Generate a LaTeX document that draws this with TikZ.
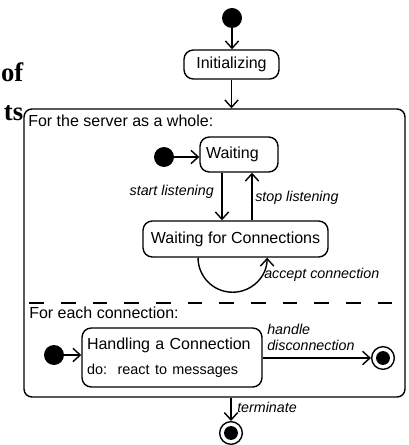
\documentclass[tikz,border=0pt]{standalone}
\usepackage{fontspec}
\setmainfont{Liberation Sans}
\newfontfamily\titlefont{Liberation Serif}
\usetikzlibrary{arrows.meta}

\tikzset{
  state/.style={draw, line width=1.05pt, rounded corners=7pt, inner sep=0pt, font=\fontsize{12}{14}\selectfont},
  startdot/.style={circle, fill, minimum size=15pt, inner sep=0pt},
  enddot/.style={circle, draw, line width=1.05pt, minimum size=17pt, inner sep=0pt,
    path picture={\fill (path picture bounding box.center) circle (5.2pt);}},
  trans/.style={line width=1.05pt, -{Straight Barb[length=5.5pt,width=10pt]}},
  lbl/.style={font=\fontsize{10.7}{11.5}\selectfont\itshape, inner sep=0pt},
  regionlbl/.style={font=\fontsize{12}{14}\selectfont, inner sep=0pt},
}

\begin{document}
\begin{tikzpicture}[x=0.75pt,y=0.75pt]
            \useasboundingbox (0,0) rectangle (408,-445);

            % cut-off title on the left
            \node[anchor=base east, inner sep=0pt, font=\titlefont\bfseries\fontsize{20}{24}\selectfont] (titleof) at (23.5,-82) {of};
            \node[anchor=base east, inner sep=0pt, font=\titlefont\bfseries\fontsize{20}{24}\selectfont] (titlets) at (23.5,-121) {ts};

            \node[startdot] (init) at (232,-18) {};
            \node[state, minimum width=71.25pt, minimum height=21.75pt] (initializing) at (231.5,-64.5) {Initializing};
            \draw[trans] (init) -- (init |- initializing.north);

            % composite state
            \node[draw, line width=1.05pt, rounded corners=6pt, minimum width=285.75pt, minimum height=216pt, inner sep=0pt] (server) at (214.5,-253) {};
            \node[regionlbl, anchor=west] (serverlbl) at (28,-121) {For the server as a whole:};

            \node[startdot] (init2) at (164,-157) {};
            \node[state, align=left, text width=49.5pt, inner xsep=4.5pt, minimum height=26.25pt] (waiting) at (239,-154.5) {Waiting};
            \node[state, minimum width=138.75pt, minimum height=27pt] (wfc) at (235.5,-239) {Waiting for Connections};

            \draw[trans] (init2) -- (waiting.west |- init2);
            \draw[trans] ([xshift=-12.75pt]waiting.south) -- ([xshift=-12.75pt]waiting.south |- wfc.north);
            \draw[trans] ([xshift=9.75pt]waiting.south |- wfc.north) -- ([xshift=9.75pt]waiting.south);
            \draw[trans] ([xshift=-28.1pt]wfc.south) arc[start angle=180, end angle=360, radius=25.9pt];

            \node[lbl, anchor=east] (startlbl) at (214,-192) {start listening};
            \node[lbl, anchor=west] (stoplbl) at (255,-198) {stop listening};
            \node[lbl, anchor=west] (acceptlbl) at (264,-275) {accept connection};

            % region separator
            \draw[line width=1.05pt, dash pattern=on 11pt off 12.75pt, dash phase=19.25pt] (server.west |- 0,-303) -- (server.east |- 0,-303);

            \node[regionlbl, anchor=west] (connlbl) at (29,-313) {For each connection:};

            \node[startdot] (init3) at (54,-355) {};
            \node[state, align=left, text width=127.5pt, inner xsep=3.75pt, minimum height=44.25pt, font=\fontsize{12}{18.75}\selectfont] (handling) at (172,-357.5)
                {Handling a Connection\\{\fontsize{10.8}{18.75}\selectfont do:~~react to messages}};
            \node[enddot] (final1) at (383,-358) {};

            \draw[trans] (init3) -- (handling.west |- init3);
            \draw[trans] (handling.east |- final1) -- (final1);
            \node[lbl, anchor=west, align=left] (disclbl) at (267,-337.5) {handle\\disconnection};

            \node[enddot] (final2) at (231,-433) {};

            \draw[trans] (initializing) -- (initializing |- server.north);
            \draw[trans] (server.south -| final2) -- (final2);
            \node[lbl, anchor=west] (termlbl) at (237,-407) {terminate};
        \end{tikzpicture}
\end{document}
